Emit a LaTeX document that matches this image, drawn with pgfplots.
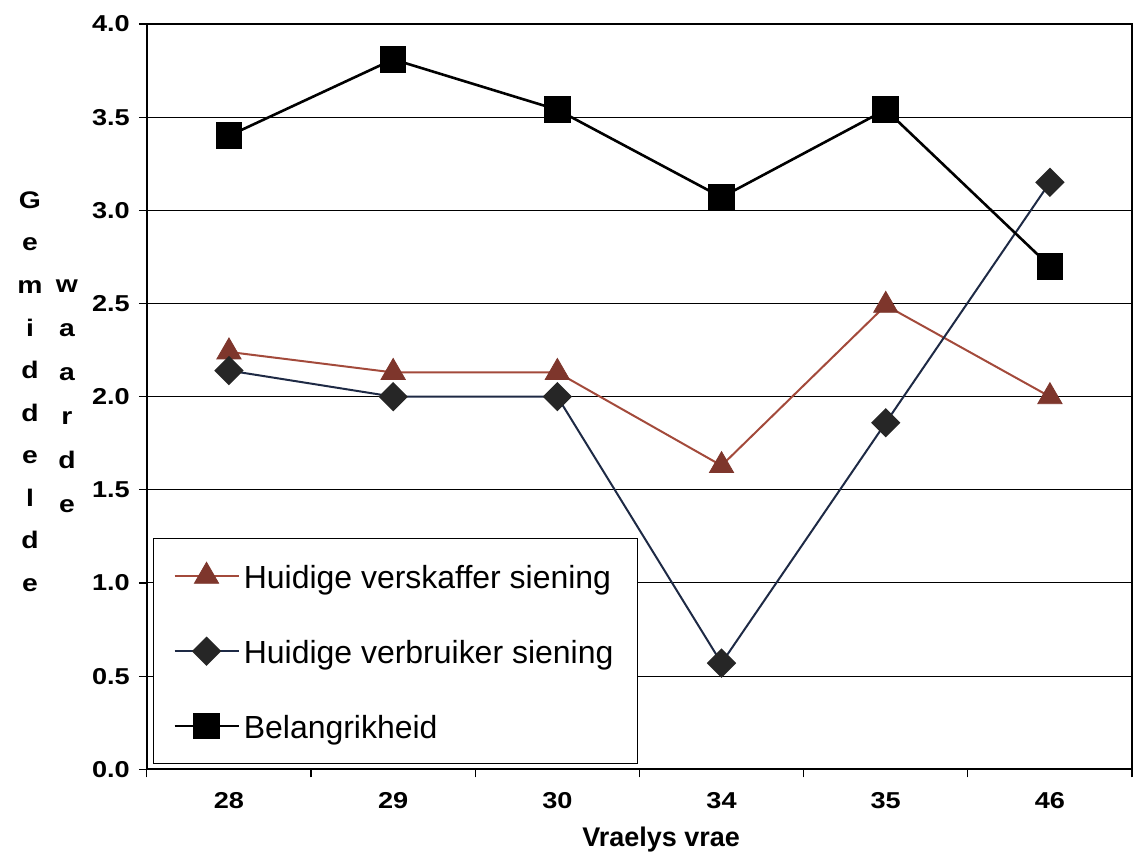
\documentclass[border=0pt]{standalone}
\usepackage{pgfplots}
\pgfplotsset{compat=1.18}
\usepackage{fontspec}
\setmainfont{Liberation Sans}
\newfontfamily\widefont[FakeStretch=1.18]{Liberation Sans}
\definecolor{brn}{HTML}{A34A3B}
\definecolor{brnfill}{HTML}{7E362C}
\definecolor{navy}{HTML}{1E2A45}
\begin{document}
\begin{tikzpicture}
\begin{axis}[
  scale only axis, width=493pt, height=373pt,
  xmin=-0.5, xmax=5.5, ymin=0, ymax=4,
  xtick={0,...,5}, xticklabels={28,29,30,34,35,46},
  minor xtick={-0.5,0.5,...,5.5},
  ytick={0,0.5,...,4},
  tick align=outside, tick pos=left,
  major x tick style={draw=none},
  minor tick length=4pt, major tick length=4pt,
  tick style={black, line width=0.6pt},
  ymajorgrids, grid style={black, line width=0.5pt},
  axis line style={black, line width=0.9pt},
  /pgf/number format/assume math mode=true,
  yticklabel style={/pgf/number format/fixed, /pgf/number format/fixed zerofill, /pgf/number format/precision=1, font=\widefont\fontsize{11.5}{13}\selectfont\bfseries, xshift=-1pt},
  xticklabel style={font=\widefont\fontsize{11.5}{13}\selectfont\bfseries, yshift=-4pt},
  xlabel={Vraelys vrae},
  xlabel style={font=\fontsize{13.5}{15}\selectfont\bfseries, at={(axis description cs:0.522,0)}, anchor=center, yshift=-35pt},
  legend style={at={(axis description cs:0.006,0.007)}, anchor=south west, draw=black, line width=0.5pt, fill=white,
    font=\fontsize{16}{18}\selectfont, row sep=18pt, inner xsep=10pt, inner ysep=9pt,
    nodes={text height=14pt}},
  legend cell align=left,
  legend image code/.code={\draw[mark repeat=2,mark phase=2,#1] plot coordinates {(0pt,0pt) (16pt,0pt) (32pt,0pt)};},
]
\addplot[color=brn, line width=1pt, mark=triangle*, mark size=7pt, mark options={fill=brnfill, draw=brnfill, line width=0.4pt}]
  coordinates {(0,2.24)(1,2.13)(2,2.13)(3,1.63)(4,2.49)(5,2.0)};
\addlegendentry{Huidige verskaffer siening}
\addplot[color=navy, line width=1pt, mark=square*, mark size=4.7pt, mark options={rotate=45, fill=black!85, draw=black!85}]
  coordinates {(0,2.14)(1,2.0)(2,2.0)(3,0.57)(4,1.86)(5,3.15)};
\addlegendentry{Huidige verbruiker siening}
\addplot[color=black, line width=1.3pt, mark=square*, mark size=6pt, mark options={fill=black}]
  coordinates {(0,3.40)(1,3.81)(2,3.54)(3,3.07)(4,3.54)(5,2.70)};
\addlegendentry{Belangrikheid}
\end{axis}
\node[anchor=north, align=center, font=\widefont\fontsize{12}{21.3}\selectfont\bfseries, inner sep=0pt]
  at ([shift={(-58.5pt,-83.7pt)}]current axis.north west) {G\\e\\m\\i\\d\\d\\e\\l\\d\\e};
\node[anchor=north, align=center, font=\widefont\fontsize{12}{22}\selectfont\bfseries, inner sep=0pt]
  at ([shift={(-40pt,-128pt)}]current axis.north west) {w\\a\\a\\r\\d\\e};
\pgfresetboundingbox
\useasboundingbox ([shift={(-73.5pt,-48.5pt)}]current axis.south west) rectangle ([shift={(0.5pt,12pt)}]current axis.north east);
\end{tikzpicture}
\end{document}
